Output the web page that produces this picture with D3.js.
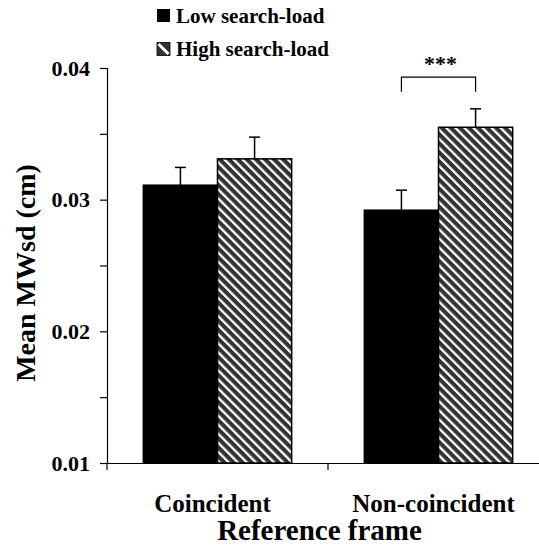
<!DOCTYPE html>
<html>
<head>
<meta charset="utf-8">
<script src="https://cdn.jsdelivr.net/npm/d3@7"></script>
<style>
  html, body { margin: 0; padding: 0; background: #fff; }
  svg { display: block; }
  text { font-family: "Liberation Serif", "Times New Roman", serif; font-weight: bold; fill: #000; }
</style>
</head>
<body>
<svg id="chart" width="539" height="560"></svg>
<script>
// ---- data ----
const categories = ["Coincident", "Non-coincident"];
const series = ["Low search-load", "High search-load"];
const lowValues = [0.0311, 0.0292];
const highValues = [0.0331, 0.0355];
const lowErrors = [0.00135, 0.00152];
const highErrors = [0.00165, 0.0014];
const majorTicks = [0.01, 0.02, 0.03, 0.04];
const minorTicks = [0.015, 0.025, 0.035];
const significance = [{ category: "Non-coincident", label: "***" }];

const svg = d3.select("#chart");
const W = 539, H = 560;
const margin = { left: 107, top: 68, bottom: 97 };
const plotBottom = H - margin.bottom; // 463

// pattern
const defs = svg.append("defs");
const pat = defs.append("pattern")
  .attr("id", "hatch")
  .attr("patternUnits", "userSpaceOnUse")
  .attr("width", 6.4).attr("height", 6.4)
  .attr("patternTransform", "rotate(-45)");
pat.append("rect").attr("width", 6.4).attr("height", 6.4).attr("fill", "#333");
pat.append("rect").attr("x", 0).attr("width", 2.3).attr("height", 6.4).attr("fill", "#fff");

const y = d3.scaleLinear().domain([0.01, 0.04]).range([plotBottom, margin.top]);
const x0 = d3.scaleBand().domain(categories).range([margin.left, 549]).paddingInner(0).paddingOuter(0);
const x1 = d3.scaleBand().domain(series).range([0, x0.bandwidth()]).paddingInner(0).paddingOuter(0.49);

const rows = [];
categories.forEach((c, i) => {
  rows.push({ cat: c, ser: series[0], v: lowValues[i], e: lowErrors[i] });
  rows.push({ cat: c, ser: series[1], v: highValues[i], e: highErrors[i] });
});

// bars
svg.append("g").selectAll("rect").data(rows).join("rect")
  .attr("x", d => x0(d.cat) + x1(d.ser))
  .attr("y", d => y(d.v))
  .attr("width", x1.bandwidth())
  .attr("height", d => y(0.01) - y(d.v))
  .attr("fill", d => d.ser === series[0] ? "#000" : "url(#hatch)")
  .attr("stroke", "#000")
  .attr("stroke-width", 1.5);

// error bars (upper only)
const eb = svg.append("g").attr("stroke", "#000").attr("stroke-width", 1.5);
rows.forEach(d => {
  const cx = x0(d.cat) + x1(d.ser) + x1.bandwidth() / 2;
  eb.append("line").attr("x1", cx).attr("x2", cx).attr("y1", y(d.v)).attr("y2", y(d.v + d.e));
  eb.append("line").attr("x1", cx - 5.5).attr("x2", cx + 5.5).attr("y1", y(d.v + d.e)).attr("y2", y(d.v + d.e));
});

// y axis
const yAxis = d3.axisLeft(y).tickValues(majorTicks).tickFormat(d3.format(".2f")).tickSize(7).tickPadding(10);
const gy = svg.append("g").attr("transform", `translate(${margin.left},0)`).call(yAxis);
gy.select(".domain").attr("stroke-width", 1.2);
gy.selectAll(".tick line").attr("stroke-width", 1.2);
gy.selectAll(".tick text").style("font-size", "22px").style("font-family", "'Liberation Serif', serif").style("font-weight", "bold");
const gyMinor = svg.append("g").attr("transform", `translate(${margin.left},0)`)
  .call(d3.axisLeft(y).tickValues(minorTicks).tickFormat("").tickSize(7));
gyMinor.select(".domain").remove();
gyMinor.selectAll(".tick line").attr("stroke-width", 1.2);

// x axis
const gx = svg.append("g").attr("transform", `translate(0,${plotBottom})`)
  .call(d3.axisBottom(x0).tickSize(0).tickPadding(31));
gx.select(".domain").attr("stroke-width", 1.2);
gx.selectAll(".tick text").attr("dx", -5).style("font-size", "25px").style("font-family", "'Liberation Serif', serif").style("font-weight", "bold");
// boundary ticks
const bounds = categories.map(c => x0(c)).concat([x0(categories[categories.length - 1]) + x0.bandwidth()]);
gx.append("g").selectAll("line").data(bounds).join("line")
  .attr("x1", d => d).attr("x2", d => d).attr("y1", 0).attr("y2", 7)
  .attr("stroke", "#000").attr("stroke-width", 1.2);

// axis titles
svg.append("text")
  .attr("transform", `translate(35,273) rotate(-90)`)
  .attr("text-anchor", "middle")
  .style("font-size", "28px")
  .text("Mean MWsd (cm)");
svg.append("text")
  .attr("x", 319.5)
  .attr("y", 540)
  .attr("text-anchor", "middle")
  .style("font-size", "29px")
  .text("Reference frame");

// significance bracket
significance.forEach(s => {
  const xa = x0(s.category) + x1(series[0]) + x1.bandwidth() / 2;
  const xb = x0(s.category) + x1(series[1]) + x1.bandwidth() / 2;
  const top = y(0.0393), bot = y(0.0382);
  svg.append("path")
    .attr("d", `M${xa},${bot}V${top}H${xb}V${bot}`)
    .attr("fill", "none").attr("stroke", "#000").attr("stroke-width", 1.2);
  svg.append("text")
    .attr("x", (xa + xb) / 2 + 2)
    .attr("y", top - 6)
    .attr("text-anchor", "middle")
    .style("font-size", "22px")
    .text(s.label);
});

// legend
const legend = svg.append("g");
series.forEach((s, i) => {
  const gy0 = 9 + i * 33.5;
  const g = legend.append("g").attr("transform", `translate(157,${gy0})`);
  if (i === 0) {
    g.append("rect").attr("width", 13).attr("height", 13).attr("fill", "#000");
  } else {
    g.append("rect").attr("width", 13).attr("height", 13).attr("fill", "#333").attr("stroke", "#000").attr("stroke-width", 0.8);
    g.append("line").attr("x1", 1.5).attr("y1", 1.5).attr("x2", 11.5).attr("y2", 11.5).attr("stroke", "#fff").attr("stroke-width", 3);
  }
  g.append("text").attr("x", 19).attr("y", 13.5).style("font-size", "21px").text(s);
});
</script>
</body>
</html>
